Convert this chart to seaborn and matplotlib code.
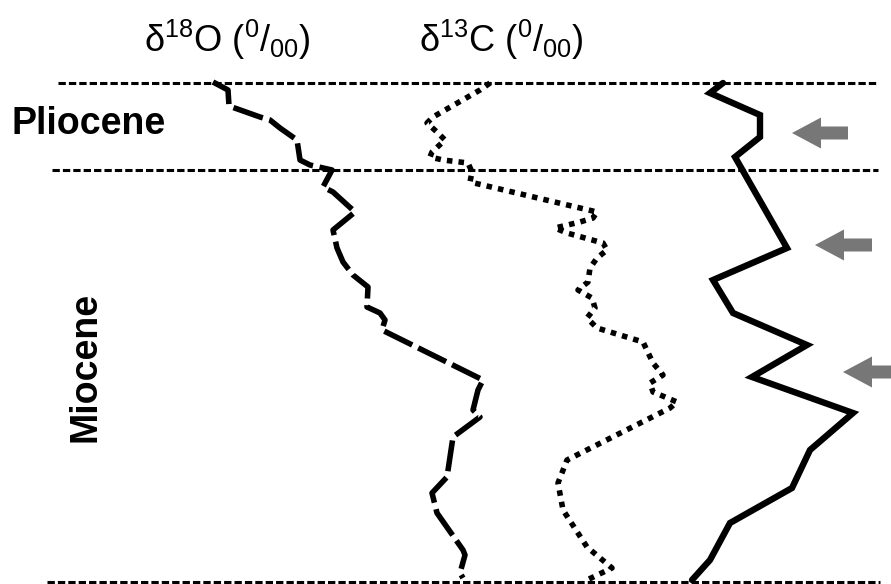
import matplotlib
matplotlib.use("Agg")
import matplotlib.pyplot as plt
import seaborn as sns

# Stratigraphic column: depth (px-like units, top = 0) vs offset of each isotope curve
d18o_x = [213, 228, 229, 260, 270, 280, 297, 300, 310, 332, 323, 333, 355, 333, 337,
          343, 353, 368, 367, 380, 385, 382, 483, 478, 473, 480, 453, 447, 432, 437,
          463, 465, 460, 463]
d18o_depth = [82, 90, 106, 117, 120, 128, 140, 160, 165, 170, 187, 192, 212, 230, 248,
              262, 275, 287, 307, 313, 320, 330, 380, 390, 410, 417, 437, 477, 493, 513,
              550, 555, 573, 578]

d13c_x = [490, 480, 433, 427, 438, 445, 432, 430, 443, 468, 472, 470, 597, 593, 580,
          555, 567, 603, 607, 597, 590, 588, 578, 592, 595, 587, 597, 643, 653, 663,
          650, 653, 677, 670, 567, 558, 563, 587, 612, 587]
d13c_depth = [83, 90, 117, 123, 133, 140, 152, 157, 160, 163, 172, 182, 212, 218, 222,
              228, 233, 243, 250, 258, 268, 282, 290, 298, 308, 318, 328, 342, 363, 375,
              383, 392, 402, 408, 460, 483, 510, 547, 568, 580]

third_x = [723, 710, 760, 760, 735, 787, 713, 733, 807, 752, 853, 810, 792, 730, 710, 692]
third_depth = [83, 93, 115, 137, 157, 248, 280, 313, 345, 377, 413, 450, 488, 523, 560, 580]

# epoch boundaries
bound_depth = [83, 170, 582]
bound_start = [58, 52, 47]
bound_end = [878, 878, 880]

# grey arrows marking events
arrow_depth = [133, 245, 372]
arrow_tip = [792, 815, 843]
arrow_tail = [848, 872, 900]

sns.set_style("white")
plt.rcParams['font.family'] = ['Liberation Sans', 'DejaVu Sans']
plt.rcParams['mathtext.fontset'] = 'custom'
plt.rcParams['mathtext.rm'] = 'Liberation Sans'
plt.rcParams['mathtext.it'] = 'Liberation Sans'
plt.rcParams['text.color'] = 'black'

fig = plt.figure(figsize=(8.91, 5.84), dpi=100)
ax = fig.add_axes([0, 0, 1, 1])

ax.hlines(bound_depth, bound_start, bound_end, colors='black', linewidth=2.2,
          linestyles=(0, (2.4, 1.0)))

sns.lineplot(x=d18o_x, y=d18o_depth, sort=False, estimator=None, ax=ax,
             color='black', linewidth=4.0, linestyle=(0, (5.6, 1.2)))
sns.lineplot(x=d13c_x, y=d13c_depth, sort=False, estimator=None, ax=ax,
             color='black', linewidth=4.0, linestyle=(0, (1.0, 1.1)))
sns.lineplot(x=third_x, y=third_depth, sort=False, estimator=None, ax=ax,
             color='black', linewidth=4.6, solid_joinstyle='miter')

for d, tip, tail in zip(arrow_depth, arrow_tip, arrow_tail):
    ax.arrow(tail, d, tip - tail, 0, width=13, head_width=31, head_length=29,
             length_includes_head=True, color='#777777', linewidth=0)

ax.text(227, 40, r'δ$^{18}$O ($^{0}$/$_{00}$)', fontsize=26, ha='center', va='center')
ax.text(501, 40, r'δ$^{13}$C ($^{0}$/$_{00}$)', fontsize=26, ha='center', va='center')
ax.text(12, 124, 'Pliocene', fontsize=27, fontweight='bold', ha='left', va='center')
ax.text(85, 367, 'Miocene', fontsize=27, fontweight='bold', ha='center', va='center',
        rotation=90)

ax.set_xlim(0, 891)
ax.set_ylim(584, 0)
ax.axis('off')

fig.savefig('out.png', dpi=100)
